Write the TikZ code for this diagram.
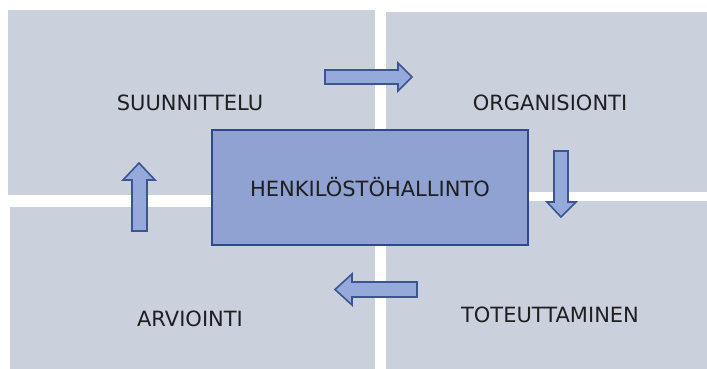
\documentclass[tikz,border=0pt]{standalone}
\usepackage{fontspec}
\setmainfont{DejaVu Sans}
\definecolor{panel}{HTML}{CBD0DD}
\definecolor{corefill}{HTML}{8FA2D2}
\definecolor{coreline}{HTML}{2F4A8A}
\definecolor{arrfill}{HTML}{95AADA}
\definecolor{arrline}{HTML}{3A5592}
\begin{document}
\begin{tikzpicture}[x=1pt,y=-1pt,
  panelbox/.style={fill=panel,draw=none},
  lbl/.style={font=\fontsize{21}{25}\selectfont,text=black!88,inner sep=0pt},
  blockarrow/.style={fill=arrfill,draw=arrline,line width=1.6pt,line join=miter}]
\useasboundingbox (0,0) rectangle (707,369);
\fill[white] (0,0) rectangle (707,369);
% panels
\path[panelbox] (8,10) rectangle (375,195);
\path[panelbox] (386,12) rectangle (707,192);
\path[panelbox] (10,207) rectangle (375,369);
\path[panelbox] (386,201) rectangle (707,369);
% central box
\node[draw=coreline,fill=corefill,line width=1.6pt,minimum width=316pt,minimum height=115pt,inner sep=0pt] (core) at (370,187.5) {};
\node[lbl] (corelbl) at (core.center) {HENKILÖSTÖHALLINTO};
% labels
\node[lbl] (s) at (190,103) {SUUNNITTELU};
\node[lbl] (o) at (550,103) {ORGANISIONTI};
\node[lbl] (a) at (190,319) {ARVIOINTI};
\node[lbl] (t) at (550,315) {TOTEUTTAMINEN};
% block arrows
\draw[blockarrow] (325,70) -- (398,70) -- (398,63) -- (412,77) -- (398,91) -- (398,84) -- (325,84) -- cycle;
\draw[blockarrow] (554,151) -- (568,151) -- (568,202) -- (576,202) -- (561,217) -- (547,202) -- (554,202) -- cycle;
\draw[blockarrow] (417,282) -- (352,282) -- (352,274) -- (335,289.5) -- (352,305) -- (352,297) -- (417,297) -- cycle;
\draw[blockarrow] (132,231) -- (132,180) -- (123,180) -- (139,163) -- (155,180) -- (147,180) -- (147,231) -- cycle;
\end{tikzpicture}
\end{document}
